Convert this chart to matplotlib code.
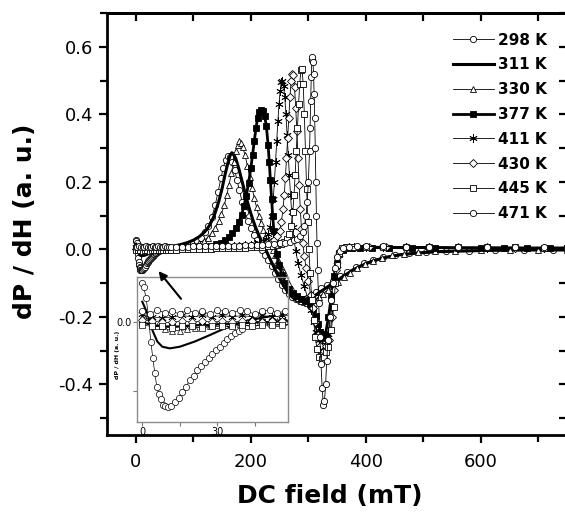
import matplotlib
matplotlib.use("Agg")
import matplotlib.pyplot as plt
from matplotlib.ticker import MultipleLocator, FormatStrFormatter

plt.rcParams['font.family'] = ['DejaVu Sans']
plt.rcParams['axes.unicode_minus'] = False

# ---- data (DC field in mT, dP/dH in a.u.) ----
h298 = [0, 0.5, 1.5, 2.5, 3.4, 4.2, 5, 5.8, 6.5, 7.3, 8.2, 9.2, 10.2, 11.5, 13, 14.5, 16, 17.5,
        19, 20.5, 22, 23.5, 25, 26.5, 28, 29.5, 31, 32.5, 34, 35.5, 37, 38.5, 40, 42, 44, 46, 48,
        51, 54, 57, 61, 66, 72, 78, 85, 92, 99, 106, 113, 120, 126, 132, 138, 143, 148, 152, 156,
        160, 164, 168, 172, 176, 180, 185, 190, 195, 200, 205, 210, 215, 220, 225, 230, 236, 242,
        248, 254, 260, 266, 272, 278, 284, 290, 297, 305, 313, 322, 332, 343, 355, 368, 382, 397,
        413, 430, 450, 475, 505, 540, 580, 625, 675, 725, 750]
p298 = [0.029, 0.026, 0.018, 0.004, -0.014, -0.026, -0.037, -0.047, -0.052, -0.056, -0.060,
        -0.061, -0.062, -0.061, -0.058, -0.055, -0.051, -0.047, -0.042, -0.039, -0.035, -0.032,
        -0.029, -0.026, -0.023, -0.020, -0.018, -0.015, -0.012, -0.010, -0.008, -0.006, -0.0045,
        -0.003, -0.0025, -0.002, -0.0015, -0.001, -0.0005, 0.0, 0.001, 0.002, 0.004, 0.006, 0.009,
        0.013, 0.018, 0.025, 0.035, 0.05, 0.068, 0.095, 0.13, 0.17, 0.21, 0.24, 0.265, 0.276,
        0.272, 0.258, 0.235, 0.205, 0.175, 0.14, 0.11, 0.085, 0.062, 0.043, 0.027, 0.012, -0.002,
        -0.016, -0.031, -0.05, -0.07, -0.088, -0.105, -0.12, -0.132, -0.142, -0.148, -0.15,
        -0.148, -0.143, -0.135, -0.126, -0.116, -0.105, -0.093, -0.08, -0.066, -0.053, -0.041,
        -0.031, -0.023, -0.016, -0.011, -0.008, -0.005, -0.004, -0.003, -0.002, -0.002, -0.001]

h311 = [0, 2, 4, 6, 8, 11, 15, 21, 27, 33, 40, 47, 54, 60, 70, 80, 90, 100, 110, 120, 128, 136,
        144, 150, 155, 160, 164, 167, 170, 174, 179, 185, 191, 197, 203, 209, 215, 221, 227, 233,
        240, 247, 255, 263, 271, 279, 287, 295, 304, 314, 325, 337, 350, 364, 380, 397, 415, 435,
        460, 490, 525, 570, 620, 680, 750]
p311 = [0.015, 0.0066, -0.0056, -0.014, -0.0178, -0.019, -0.0178, -0.014, -0.0093, -0.0044,
        0.0005, 0.003, 0.0053, 0.0075, 0.011, 0.015, 0.02, 0.027, 0.037, 0.052, 0.07, 0.098, 0.14,
        0.18, 0.22, 0.255, 0.278, 0.286, 0.282, 0.268, 0.24, 0.2, 0.16, 0.123, 0.09, 0.062, 0.038,
        0.016, -0.005, -0.027, -0.052, -0.077, -0.102, -0.123, -0.14, -0.151, -0.155, -0.152,
        -0.145, -0.134, -0.121, -0.107, -0.092, -0.076, -0.059, -0.045, -0.033, -0.024, -0.016,
        -0.011, -0.007, -0.005, -0.003, -0.002, -0.002]

h330 = [0, 3, 6, 9, 12, 15, 18, 21, 24, 27, 30, 33, 36, 39, 42, 45, 48, 51, 54, 57, 62, 70, 78,
        86, 94, 102, 110, 118, 125, 132, 138, 144, 149, 154, 158, 162, 166, 170, 174, 177, 180,
        183, 186, 190, 194, 198, 202, 206, 210, 214, 218, 222, 226, 230, 234, 238, 242, 247, 252,
        257, 262, 267, 272, 277, 282, 287, 292, 298, 304, 311, 318, 326, 334, 343, 352, 362, 373,
        385, 398, 412, 428, 446, 466, 490, 520, 555, 600, 650, 700, 750]
p330 = [0.004, 0.002, -0.003, -0.005, -0.006, -0.006, -0.005, -0.004, -0.003, -0.003, -0.002,
        -0.002, -0.001, -0.001, 0.0, 0.0, 0.0, 0.001, 0.001, 0.001, 0.002, 0.003, 0.005, 0.007,
        0.01, 0.014, 0.019, 0.026, 0.035, 0.048, 0.063, 0.083, 0.105, 0.132, 0.16, 0.19, 0.225,
        0.26, 0.292, 0.31, 0.32, 0.316, 0.303, 0.278, 0.248, 0.215, 0.183, 0.152, 0.124, 0.099,
        0.077, 0.058, 0.041, 0.026, 0.012, -0.002, -0.016, -0.033, -0.05, -0.068, -0.086, -0.103,
        -0.118, -0.132, -0.143, -0.152, -0.157, -0.158, -0.155, -0.149, -0.141, -0.131, -0.12,
        -0.108, -0.096, -0.083, -0.069, -0.056, -0.044, -0.034, -0.025, -0.018, -0.013, -0.009,
        -0.006, -0.004, -0.003, -0.002, -0.002, -0.001]

h377 = [0, 4, 8, 12, 16, 20, 24, 28, 32, 36, 40, 44, 48, 52, 56, 62, 70, 80, 90, 100, 110, 120,
        130, 140, 148, 155, 162, 168, 174, 179, 184, 188, 192, 196, 200, 203, 206, 209, 212, 215,
        218, 221, 224, 227, 230, 232, 234, 236, 238, 240, 242, 245, 249, 254, 260, 267, 274, 281,
        288, 295, 302, 308, 313, 317, 321, 324, 327, 330, 335, 340, 345, 349, 354, 360, 368, 375,
        390, 410, 440, 480, 520, 560, 600, 640, 680, 720, 750]
p377 = [0.0, -0.002, -0.003, -0.003, -0.003, -0.002, -0.002, -0.002, -0.001, -0.001, -0.001, 0.0,
        0.0, 0.0, 0.001, 0.001, 0.002, 0.003, 0.004, 0.005, 0.006, 0.008, 0.011, 0.015, 0.02,
        0.027, 0.036, 0.047, 0.062, 0.08, 0.103, 0.128, 0.158, 0.195, 0.24, 0.28, 0.32, 0.36,
        0.39, 0.407, 0.413, 0.41, 0.395, 0.365, 0.31, 0.26, 0.205, 0.15, 0.1, 0.055, 0.02, -0.015,
        -0.045, -0.075, -0.1, -0.118, -0.13, -0.139, -0.146, -0.153, -0.163, -0.178, -0.198,
        -0.22, -0.244, -0.258, -0.262, -0.25, -0.2, -0.14, -0.08, -0.04, -0.015, -0.003, 0.003,
        0.004, 0.004, 0.005, 0.005, 0.005, 0.005, 0.004, 0.004, 0.004, 0.004, 0.004, 0.004]

h411 = [0, 4, 8, 12, 16, 20, 24, 28, 32, 36, 40, 44, 48, 52, 56, 62, 70, 80, 90, 100, 110, 120,
        130, 140, 150, 160, 170, 180, 190, 200, 208, 215, 221, 226, 230, 233, 236, 239, 241, 243,
        245, 247, 249, 251, 253, 255, 257, 259, 261, 263, 265, 267, 269, 271, 273, 275, 278, 282,
        287, 293, 299, 305, 310, 314, 318, 323, 329, 335, 341, 345, 349, 353, 358, 366, 380, 400,
        430, 470, 510, 560, 610, 660, 710, 750]
p411 = [0.006, 0.004, 0.003, 0.004, 0.005, 0.004, 0.005, 0.004, 0.005, 0.004, 0.005, 0.004,
        0.005, 0.004, 0.005, 0.005, 0.005, 0.005, 0.006, 0.006, 0.006, 0.007, 0.007, 0.008, 0.008,
        0.009, 0.01, 0.011, 0.012, 0.014, 0.016, 0.019, 0.024, 0.032, 0.045, 0.065, 0.1, 0.15, 0.2,
        0.26, 0.32, 0.38, 0.43, 0.47, 0.495, 0.5, 0.485, 0.45, 0.4, 0.34, 0.28, 0.22, 0.16, 0.11,
        0.065, 0.03, -0.005, -0.04, -0.075, -0.11, -0.145, -0.18, -0.215, -0.245, -0.27, -0.29,
        -0.28, -0.25, -0.17, -0.1, -0.045, -0.015, 0.0, 0.005, 0.006, 0.006, 0.006, 0.006, 0.006,
        0.005, 0.005, 0.005, 0.005, 0.005]

h430 = [0, 4, 8, 12, 16, 20, 24, 28, 32, 36, 40, 44, 48, 52, 56, 62, 70, 80, 90, 100, 110, 120,
        130, 140, 150, 160, 170, 180, 190, 200, 210, 220, 228, 235, 241, 246, 250, 253, 256, 258,
        260, 262, 264, 266, 268, 270, 272, 274, 276, 278, 280, 282, 284, 286, 288, 290, 293, 296,
        300, 304, 308, 312, 316, 320, 323, 327, 331, 336, 341, 345, 348, 352, 357, 364, 370, 385,
        405, 435, 470, 510, 560, 610, 660, 710, 750]
p430 = [0.002, 0.001, 0.0, 0.0, 0.001, 0.0, 0.001, 0.0, 0.001, 0.0, 0.001, 0.001, 0.0, 0.001,
        0.001, 0.002, 0.002, 0.003, 0.003, 0.004, 0.004, 0.005, 0.005, 0.006, 0.006, 0.007, 0.008,
        0.009, 0.01, 0.011, 0.013, 0.015, 0.018, 0.022, 0.028, 0.038, 0.055, 0.08, 0.12, 0.16,
        0.21, 0.27, 0.33, 0.39, 0.45, 0.5, 0.52, 0.515, 0.48, 0.42, 0.35, 0.27, 0.19, 0.12, 0.06,
        0.02, -0.02, -0.055, -0.095, -0.135, -0.175, -0.215, -0.255, -0.285, -0.305, -0.3, -0.285,
        -0.27, -0.2, -0.12, -0.06, -0.02, -0.003, 0.005, 0.006, 0.007, 0.007, 0.007, 0.007, 0.006,
        0.006, 0.006, 0.005, 0.005, 0.005]

h445 = [0, 4, 8, 12, 16, 20, 24, 28, 32, 36, 40, 44, 48, 52, 56, 62, 70, 80, 90, 100, 110, 120,
        130, 140, 150, 160, 170, 180, 190, 200, 210, 220, 230, 238, 245, 252, 258, 263, 267, 270,
        273, 275, 277, 279, 281, 283, 285, 287, 289, 291, 293, 295, 297, 299, 301, 303, 306, 309,
        312, 315, 319, 323, 327, 331, 335, 340, 344, 347, 350, 354, 359, 366, 380, 400, 430, 470,
        510, 560, 610, 660, 710, 750]
p445 = [-0.002, -0.003, -0.003, -0.004, -0.003, -0.003, -0.004, -0.003, -0.003, -0.003, -0.002,
        -0.003, -0.002, -0.002, -0.002, -0.001, -0.001, 0.0, 0.0, 0.001, 0.001, 0.002, 0.002,
        0.003, 0.003, 0.004, 0.004, 0.005, 0.005, 0.006, 0.007, 0.008, 0.009, 0.011, 0.013, 0.016,
        0.021, 0.03, 0.045, 0.07, 0.11, 0.16, 0.22, 0.29, 0.36, 0.43, 0.49, 0.53, 0.535, 0.49,
        0.4, 0.29, 0.18, 0.08, 0.0, -0.07, -0.15, -0.21, -0.26, -0.295, -0.318, -0.325, -0.32,
        -0.305, -0.29, -0.24, -0.17, -0.1, -0.045, -0.012, 0.003, 0.007, 0.008, 0.008, 0.008,
        0.007, 0.007, 0.006, 0.006, 0.006, 0.005, 0.005]

h471 = [0, 3, 6, 9, 12, 15, 18, 21, 24, 27, 30, 33, 36, 39, 42, 45, 48, 51, 54, 57, 62, 70, 80,
        90, 100, 110, 120, 130, 140, 150, 160, 170, 180, 190, 200, 210, 220, 230, 240, 250, 260,
        268, 275, 281, 286, 290, 293, 296, 298, 300, 302, 303, 304, 305, 306, 307, 308, 309, 310,
        311, 312, 313, 314, 315, 316, 318, 320, 322, 324, 326, 328, 330, 332, 334, 337, 340, 343,
        346, 350, 355, 361, 370, 385, 400, 430, 470, 510, 560, 610, 660, 710, 750]
p471 = [0.008, 0.006, 0.009, 0.007, 0.008, 0.006, 0.009, 0.007, 0.008, 0.006, 0.009, 0.008,
        0.007, 0.009, 0.008, 0.006, 0.008, 0.009, 0.007, 0.008, 0.008, 0.008, 0.008, 0.008, 0.009,
        0.009, 0.009, 0.009, 0.01, 0.01, 0.01, 0.011, 0.011, 0.012, 0.012, 0.013, 0.014, 0.015,
        0.016, 0.018, 0.02, 0.023, 0.027, 0.032, 0.04, 0.052, 0.07, 0.1, 0.14, 0.2, 0.29, 0.36,
        0.44, 0.51, 0.56, 0.57, 0.555, 0.52, 0.46, 0.39, 0.3, 0.2, 0.1, 0.02, -0.06, -0.16, -0.26,
        -0.34, -0.41, -0.46, -0.45, -0.4, -0.33, -0.27, -0.2, -0.15, -0.1, -0.055, -0.022, -0.005,
        0.004, 0.008, 0.009, 0.009, 0.009, 0.008, 0.008, 0.007, 0.007, 0.006, 0.006, 0.006]

labels = ["298 K", "311 K", "330 K", "377 K", "411 K", "430 K", "445 K", "471 K"]
fields = [h298, h311, h330, h377, h411, h430, h445, h471]
signals = [p298, p311, p330, p377, p411, p430, p445, p471]

styles = [
    dict(marker='o', ms=4.5, mfc='white', lw=0.6),
    dict(marker=None, lw=2.2),
    dict(marker='^', ms=4.5, mfc='white', lw=0.6),
    dict(marker='s', ms=3.8, mfc='black', lw=2.0),
    dict(marker=(6, 2, 0), ms=6, lw=0.6),
    dict(marker='D', ms=4, mfc='white', lw=0.6),
    dict(marker='s', ms=4.5, mfc='white', lw=0.6),
    dict(marker='o', ms=4.5, mfc='white', lw=0.6),
]

W, H = 565, 513
fig = plt.figure(figsize=(W / 100, H / 100), dpi=100)
ax = fig.add_axes([107 / W, 1 - 435 / H, 460.25 / W, 422 / H])

for h, p, lab, st in zip(fields, signals, labels, styles):
    ax.plot(h, p, color='black', mec='black', mew=0.6, label=lab, **st)

ax.set_xlim(-50, 750)
ax.set_ylim(-0.55, 0.7)
ax.xaxis.set_major_locator(MultipleLocator(200))
ax.xaxis.set_minor_locator(MultipleLocator(100))
ax.yaxis.set_major_locator(MultipleLocator(0.2))
ax.yaxis.set_minor_locator(MultipleLocator(0.1))
ax.yaxis.set_major_formatter(FormatStrFormatter('%.1f'))
ax.tick_params(which='both', direction='out', width=1.6, labelsize=13)
ax.tick_params(which='major', length=6)
ax.tick_params(which='minor', length=5)
ax.tick_params(axis='x', pad=7)
ax.tick_params(axis='y', pad=4)
for s in ax.spines.values():
    s.set_linewidth(2.0)

# inward ticks on top and right, as in the original
top = ax.secondary_xaxis('top')
top.xaxis.set_major_locator(MultipleLocator(100))
top.tick_params(direction='in', length=6, width=1.6, labeltop=False)
top.spines['top'].set_linewidth(2.0)
right = ax.secondary_yaxis('right')
right.yaxis.set_major_locator(MultipleLocator(0.2))
right.yaxis.set_minor_locator(MultipleLocator(0.1))
right.tick_params(which='both', direction='in', length=6, width=1.6, labelright=False)
right.spines['right'].set_linewidth(2.0)

fig.text(25 / W, 1 - 221 / H, "dP / dH (a. u.)", rotation=90, ha='center', va='center',
         fontsize=18, fontweight='bold')
fig.text(330 / W, 1 - 496 / H, "DC field (mT)", ha='center', va='center',
         fontsize=18, fontweight='bold')

ax.legend(loc='upper right', bbox_to_anchor=(555 / W, 1 - 25 / H), bbox_transform=fig.transFigure,
          frameon=False, borderpad=0, handlelength=2.7, handletextpad=0.3, labelspacing=0.64,
          prop=dict(size=11, weight='bold'))

# inset: zoom of the low field region
axin = fig.add_axes([137.3 / W, 1 - 421.7 / H, 151 / W, 145 / H])
axin.patch.set_alpha(0)
for h, p, st in zip(fields, signals, styles):
    st2 = dict(st)
    if st2.get('lw', 1) < 1:
        st2['lw'] = 0.5
    else:
        st2['lw'] = 1.5
    axin.plot(h, p, color='black', mec='black', mew=0.5, **st2)
axin.set_xlim(-2, 58.4)
axin.set_ylim(-0.0725, 0.0333)
axin.set_xticks([0, 30])
axin.set_xticks([15, 45], minor=True)
axin.set_yticks([0.0])
axin.set_yticklabels(['0.0'])
axin.set_yticks([-0.05], minor=True)
axin.tick_params(which='both', direction='out', length=3, width=0.8, labelsize=7, pad=1,
                 color='#777777')
for s in axin.spines.values():
    s.set_color('#8c8c8c')
    s.set_linewidth(1.0)
fig.text(118 / W, 1 - 355 / H, "dP / dH (a. u.)", rotation=90, ha='center', va='center',
         fontsize=4.5, fontweight='bold')

axin.annotate('', xy=(36.5, -0.058), xycoords=ax.transData, xytext=(81.7, -0.153),
              textcoords=ax.transData, annotation_clip=False,
              arrowprops=dict(arrowstyle='-|>', color='black', lw=1.5, mutation_scale=12))

fig.savefig("out.png", dpi=100)
